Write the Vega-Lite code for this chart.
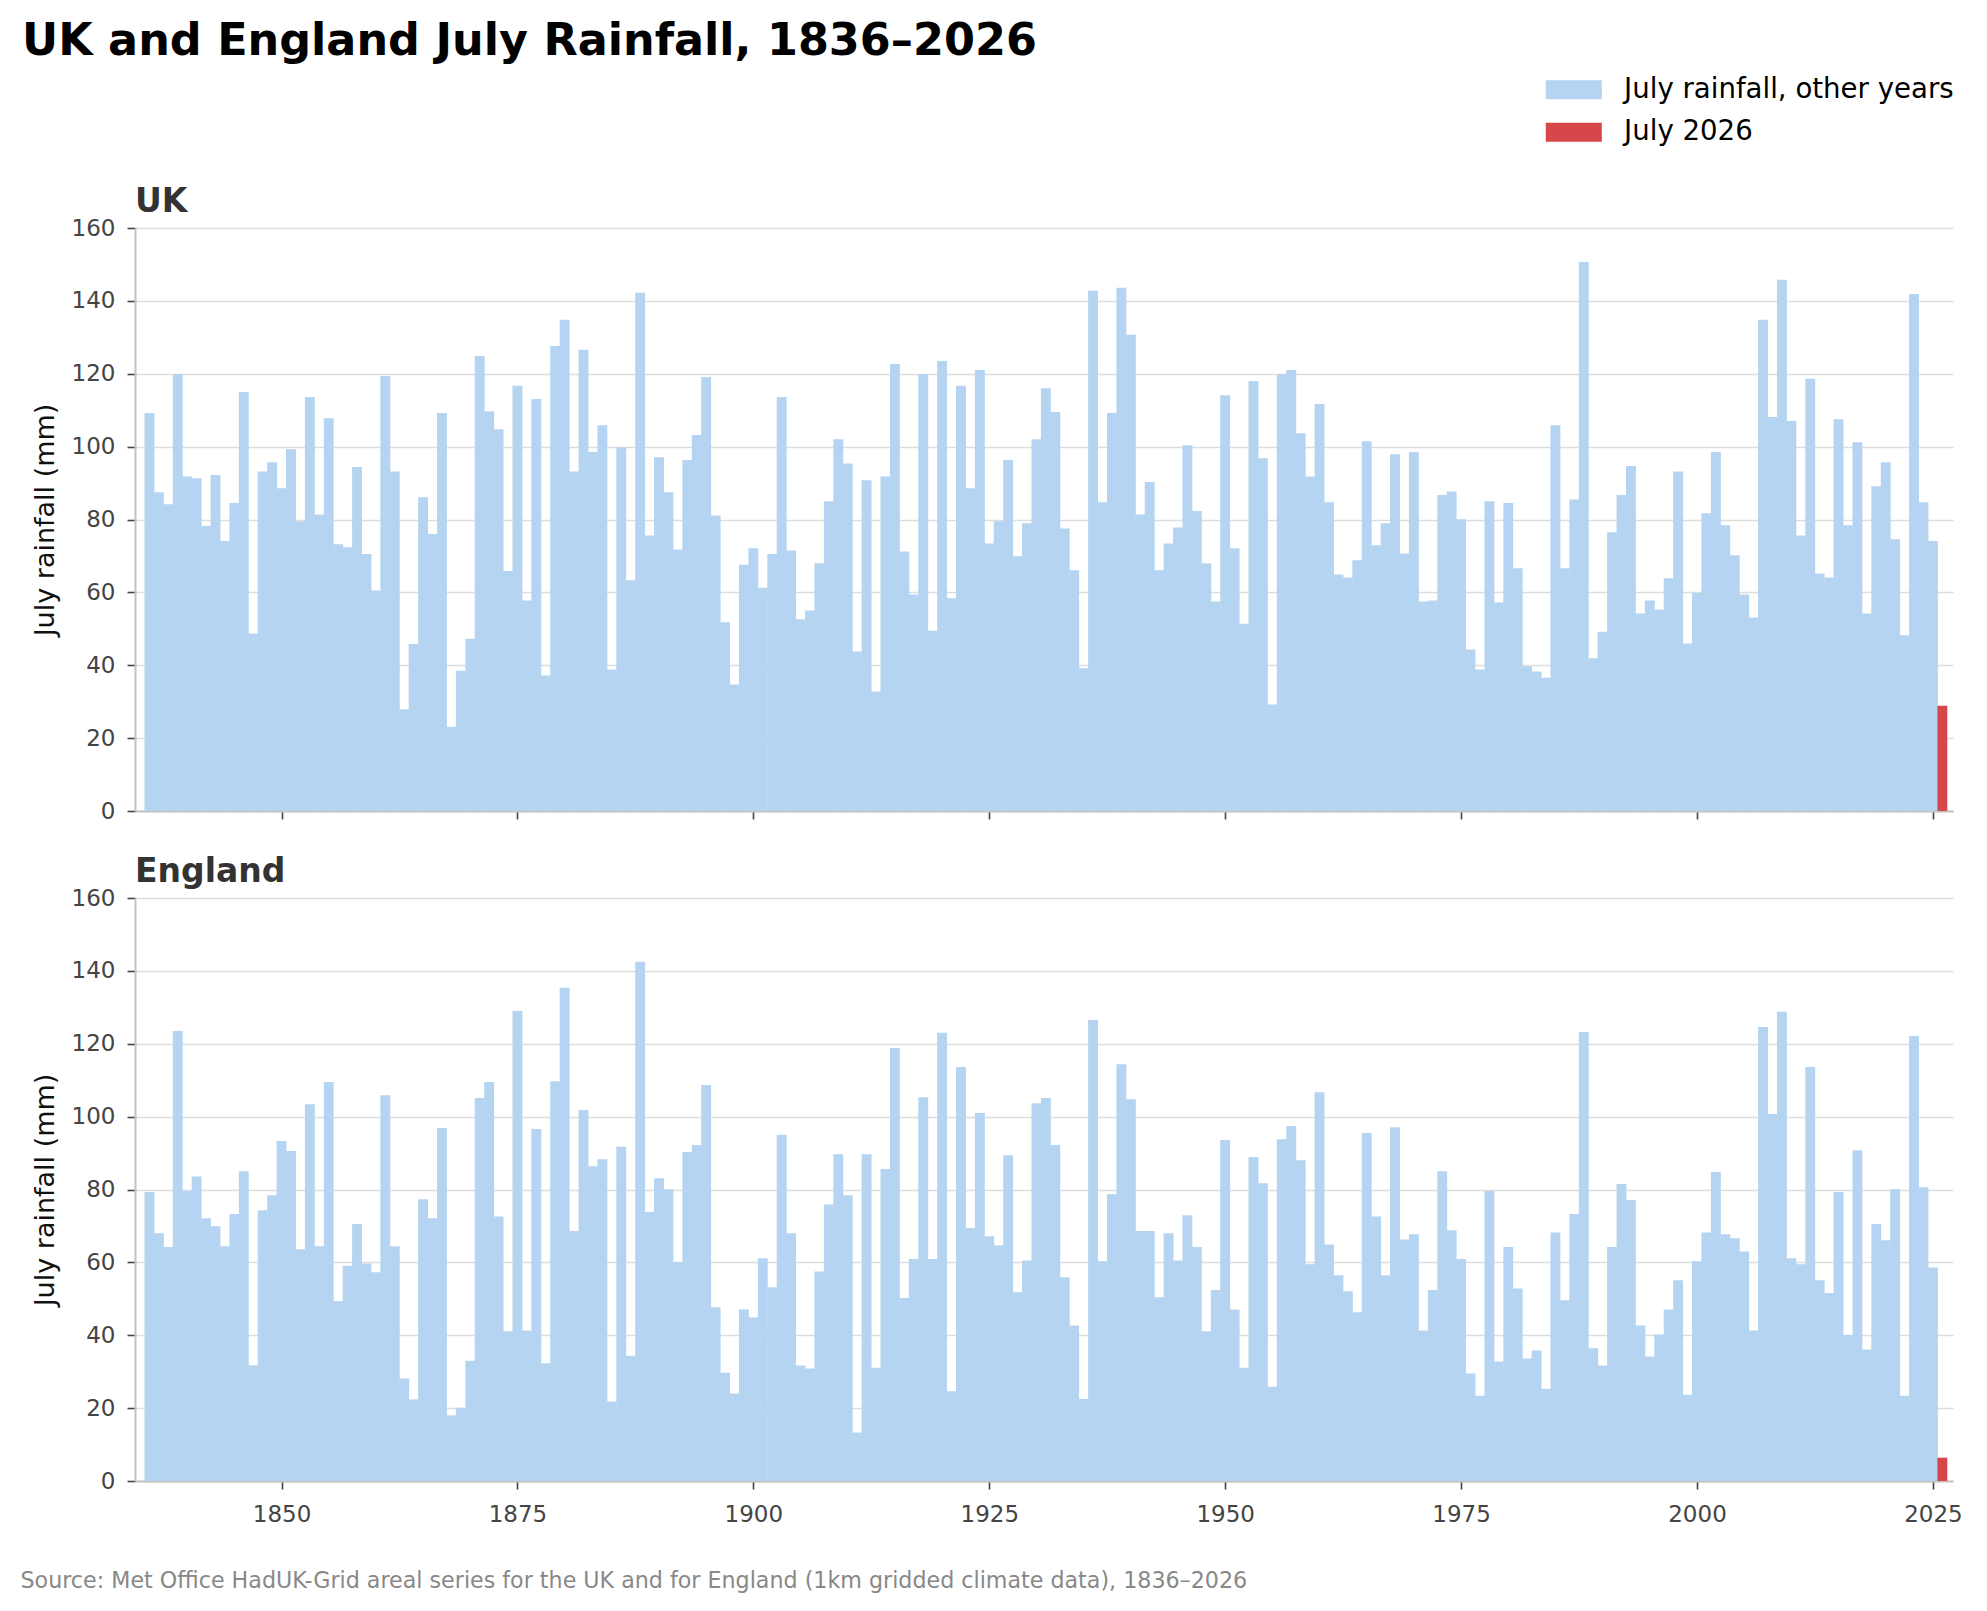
{
  "$schema": "https://vega.github.io/schema/vega-lite/v6.json",
  "padding": {"left": 20, "top": 19, "right": 10, "bottom": 10},
  "title": {
    "text": "UK and England July Rainfall, 1836–2026",
    "anchor": "start",
    "frame": "bounds",
    "dx": 2,
    "fontSize": 44.5,
    "fontWeight": "bold",
    "color": "#000000",
    "baseline": "top",
    "offset": 11.5
  },
  "data": {
    "values": [
      {"year": 1836, "uk": 109.2, "england": 79.3, "series": "July rainfall, other years"},
      {"year": 1837, "uk": 87.5, "england": 68.0, "series": "July rainfall, other years"},
      {"year": 1838, "uk": 84.2, "england": 64.2, "series": "July rainfall, other years"},
      {"year": 1839, "uk": 119.9, "england": 123.5, "series": "July rainfall, other years"},
      {"year": 1840, "uk": 91.8, "england": 79.6, "series": "July rainfall, other years"},
      {"year": 1841, "uk": 91.3, "england": 83.6, "series": "July rainfall, other years"},
      {"year": 1842, "uk": 78.2, "england": 72.1, "series": "July rainfall, other years"},
      {"year": 1843, "uk": 92.2, "england": 69.9, "series": "July rainfall, other years"},
      {"year": 1844, "uk": 74.1, "england": 64.4, "series": "July rainfall, other years"},
      {"year": 1845, "uk": 84.5, "england": 73.3, "series": "July rainfall, other years"},
      {"year": 1846, "uk": 115.0, "england": 85.0, "series": "July rainfall, other years"},
      {"year": 1847, "uk": 48.7, "england": 31.8, "series": "July rainfall, other years"},
      {"year": 1848, "uk": 93.2, "england": 74.3, "series": "July rainfall, other years"},
      {"year": 1849, "uk": 95.7, "england": 78.4, "series": "July rainfall, other years"},
      {"year": 1850, "uk": 88.6, "england": 93.3, "series": "July rainfall, other years"},
      {"year": 1851, "uk": 99.3, "england": 90.6, "series": "July rainfall, other years"},
      {"year": 1852, "uk": 79.5, "england": 63.6, "series": "July rainfall, other years"},
      {"year": 1853, "uk": 113.6, "england": 103.4, "series": "July rainfall, other years"},
      {"year": 1854, "uk": 81.4, "england": 64.4, "series": "July rainfall, other years"},
      {"year": 1855, "uk": 107.8, "england": 109.5, "series": "July rainfall, other years"},
      {"year": 1856, "uk": 73.2, "england": 49.4, "series": "July rainfall, other years"},
      {"year": 1857, "uk": 72.4, "england": 59.1, "series": "July rainfall, other years"},
      {"year": 1858, "uk": 94.4, "england": 70.5, "series": "July rainfall, other years"},
      {"year": 1859, "uk": 70.5, "england": 59.7, "series": "July rainfall, other years"},
      {"year": 1860, "uk": 60.5, "england": 57.3, "series": "July rainfall, other years"},
      {"year": 1861, "uk": 119.4, "england": 105.9, "series": "July rainfall, other years"},
      {"year": 1862, "uk": 93.2, "england": 64.4, "series": "July rainfall, other years"},
      {"year": 1863, "uk": 27.9, "england": 28.1, "series": "July rainfall, other years"},
      {"year": 1864, "uk": 45.8, "england": 22.4, "series": "July rainfall, other years"},
      {"year": 1865, "uk": 86.1, "england": 77.3, "series": "July rainfall, other years"},
      {"year": 1866, "uk": 76.0, "england": 72.1, "series": "July rainfall, other years"},
      {"year": 1867, "uk": 109.2, "england": 96.9, "series": "July rainfall, other years"},
      {"year": 1868, "uk": 23.1, "england": 18.0, "series": "July rainfall, other years"},
      {"year": 1869, "uk": 38.5, "england": 20.1, "series": "July rainfall, other years"},
      {"year": 1870, "uk": 47.3, "england": 33.0, "series": "July rainfall, other years"},
      {"year": 1871, "uk": 124.9, "england": 105.1, "series": "July rainfall, other years"},
      {"year": 1872, "uk": 109.7, "england": 109.5, "series": "July rainfall, other years"},
      {"year": 1873, "uk": 104.8, "england": 72.6, "series": "July rainfall, other years"},
      {"year": 1874, "uk": 65.9, "england": 41.1, "series": "July rainfall, other years"},
      {"year": 1875, "uk": 116.7, "england": 129.0, "series": "July rainfall, other years"},
      {"year": 1876, "uk": 57.8, "england": 41.3, "series": "July rainfall, other years"},
      {"year": 1877, "uk": 113.1, "england": 96.6, "series": "July rainfall, other years"},
      {"year": 1878, "uk": 37.2, "england": 32.3, "series": "July rainfall, other years"},
      {"year": 1879, "uk": 127.6, "england": 109.7, "series": "July rainfall, other years"},
      {"year": 1880, "uk": 134.8, "england": 135.4, "series": "July rainfall, other years"},
      {"year": 1881, "uk": 93.2, "england": 68.6, "series": "July rainfall, other years"},
      {"year": 1882, "uk": 126.6, "england": 101.8, "series": "July rainfall, other years"},
      {"year": 1883, "uk": 98.5, "england": 86.4, "series": "July rainfall, other years"},
      {"year": 1884, "uk": 105.9, "england": 88.3, "series": "July rainfall, other years"},
      {"year": 1885, "uk": 38.8, "england": 21.8, "series": "July rainfall, other years"},
      {"year": 1886, "uk": 99.8, "england": 91.7, "series": "July rainfall, other years"},
      {"year": 1887, "uk": 63.3, "england": 34.4, "series": "July rainfall, other years"},
      {"year": 1888, "uk": 142.2, "england": 142.5, "series": "July rainfall, other years"},
      {"year": 1889, "uk": 75.6, "england": 73.8, "series": "July rainfall, other years"},
      {"year": 1890, "uk": 97.1, "england": 83.1, "series": "July rainfall, other years"},
      {"year": 1891, "uk": 87.5, "england": 80.1, "series": "July rainfall, other years"},
      {"year": 1892, "uk": 71.8, "england": 60.1, "series": "July rainfall, other years"},
      {"year": 1893, "uk": 96.3, "england": 90.3, "series": "July rainfall, other years"},
      {"year": 1894, "uk": 103.2, "england": 92.2, "series": "July rainfall, other years"},
      {"year": 1895, "uk": 119.1, "england": 108.7, "series": "July rainfall, other years"},
      {"year": 1896, "uk": 81.1, "england": 47.7, "series": "July rainfall, other years"},
      {"year": 1897, "uk": 51.8, "england": 29.7, "series": "July rainfall, other years"},
      {"year": 1898, "uk": 34.7, "england": 24.0, "series": "July rainfall, other years"},
      {"year": 1899, "uk": 67.6, "england": 47.1, "series": "July rainfall, other years"},
      {"year": 1900, "uk": 72.1, "england": 44.9, "series": "July rainfall, other years"},
      {"year": 1901, "uk": 61.3, "england": 61.1, "series": "July rainfall, other years"},
      {"year": 1902, "uk": 70.5, "england": 53.2, "series": "July rainfall, other years"},
      {"year": 1903, "uk": 113.6, "england": 95.0, "series": "July rainfall, other years"},
      {"year": 1904, "uk": 71.5, "england": 68.0, "series": "July rainfall, other years"},
      {"year": 1905, "uk": 52.6, "england": 31.7, "series": "July rainfall, other years"},
      {"year": 1906, "uk": 55.0, "england": 30.9, "series": "July rainfall, other years"},
      {"year": 1907, "uk": 68.0, "england": 57.5, "series": "July rainfall, other years"},
      {"year": 1908, "uk": 85.0, "england": 75.9, "series": "July rainfall, other years"},
      {"year": 1909, "uk": 102.0, "england": 89.7, "series": "July rainfall, other years"},
      {"year": 1910, "uk": 95.4, "england": 78.4, "series": "July rainfall, other years"},
      {"year": 1911, "uk": 43.8, "england": 13.3, "series": "July rainfall, other years"},
      {"year": 1912, "uk": 90.8, "england": 89.7, "series": "July rainfall, other years"},
      {"year": 1913, "uk": 32.8, "england": 31.1, "series": "July rainfall, other years"},
      {"year": 1914, "uk": 91.8, "england": 85.6, "series": "July rainfall, other years"},
      {"year": 1915, "uk": 122.7, "england": 118.8, "series": "July rainfall, other years"},
      {"year": 1916, "uk": 71.2, "england": 50.2, "series": "July rainfall, other years"},
      {"year": 1917, "uk": 59.4, "england": 60.9, "series": "July rainfall, other years"},
      {"year": 1918, "uk": 119.9, "england": 105.3, "series": "July rainfall, other years"},
      {"year": 1919, "uk": 49.5, "england": 60.9, "series": "July rainfall, other years"},
      {"year": 1920, "uk": 123.5, "england": 123.0, "series": "July rainfall, other years"},
      {"year": 1921, "uk": 58.4, "england": 24.6, "series": "July rainfall, other years"},
      {"year": 1922, "uk": 116.7, "england": 113.6, "series": "July rainfall, other years"},
      {"year": 1923, "uk": 88.6, "england": 69.4, "series": "July rainfall, other years"},
      {"year": 1924, "uk": 121.0, "england": 101.0, "series": "July rainfall, other years"},
      {"year": 1925, "uk": 73.4, "england": 67.2, "series": "July rainfall, other years"},
      {"year": 1926, "uk": 79.5, "england": 64.7, "series": "July rainfall, other years"},
      {"year": 1927, "uk": 96.3, "england": 89.4, "series": "July rainfall, other years"},
      {"year": 1928, "uk": 69.9, "england": 51.8, "series": "July rainfall, other years"},
      {"year": 1929, "uk": 79.0, "england": 60.5, "series": "July rainfall, other years"},
      {"year": 1930, "uk": 102.0, "england": 103.7, "series": "July rainfall, other years"},
      {"year": 1931, "uk": 116.0, "england": 105.1, "series": "July rainfall, other years"},
      {"year": 1932, "uk": 109.5, "england": 92.2, "series": "July rainfall, other years"},
      {"year": 1933, "uk": 77.5, "england": 55.9, "series": "July rainfall, other years"},
      {"year": 1934, "uk": 66.1, "england": 42.7, "series": "July rainfall, other years"},
      {"year": 1935, "uk": 39.2, "england": 22.5, "series": "July rainfall, other years"},
      {"year": 1936, "uk": 142.8, "england": 126.5, "series": "July rainfall, other years"},
      {"year": 1937, "uk": 84.7, "england": 60.3, "series": "July rainfall, other years"},
      {"year": 1938, "uk": 109.2, "england": 78.7, "series": "July rainfall, other years"},
      {"year": 1939, "uk": 143.6, "england": 114.4, "series": "July rainfall, other years"},
      {"year": 1940, "uk": 130.7, "england": 104.8, "series": "July rainfall, other years"},
      {"year": 1941, "uk": 81.4, "england": 68.6, "series": "July rainfall, other years"},
      {"year": 1942, "uk": 90.3, "england": 68.6, "series": "July rainfall, other years"},
      {"year": 1943, "uk": 66.1, "england": 50.4, "series": "July rainfall, other years"},
      {"year": 1944, "uk": 73.4, "england": 68.0, "series": "July rainfall, other years"},
      {"year": 1945, "uk": 77.8, "england": 60.5, "series": "July rainfall, other years"},
      {"year": 1946, "uk": 100.4, "england": 72.9, "series": "July rainfall, other years"},
      {"year": 1947, "uk": 82.3, "england": 64.2, "series": "July rainfall, other years"},
      {"year": 1948, "uk": 68.0, "england": 41.1, "series": "July rainfall, other years"},
      {"year": 1949, "uk": 57.5, "england": 52.4, "series": "July rainfall, other years"},
      {"year": 1950, "uk": 114.1, "england": 93.6, "series": "July rainfall, other years"},
      {"year": 1951, "uk": 72.1, "england": 47.1, "series": "July rainfall, other years"},
      {"year": 1952, "uk": 51.4, "england": 31.1, "series": "July rainfall, other years"},
      {"year": 1953, "uk": 118.0, "england": 88.9, "series": "July rainfall, other years"},
      {"year": 1954, "uk": 96.8, "england": 81.7, "series": "July rainfall, other years"},
      {"year": 1955, "uk": 29.2, "england": 25.9, "series": "July rainfall, other years"},
      {"year": 1956, "uk": 119.9, "england": 93.8, "series": "July rainfall, other years"},
      {"year": 1957, "uk": 121.0, "england": 97.4, "series": "July rainfall, other years"},
      {"year": 1958, "uk": 103.7, "england": 88.0, "series": "July rainfall, other years"},
      {"year": 1959, "uk": 91.8, "england": 59.5, "series": "July rainfall, other years"},
      {"year": 1960, "uk": 111.7, "england": 106.7, "series": "July rainfall, other years"},
      {"year": 1961, "uk": 84.7, "england": 64.9, "series": "July rainfall, other years"},
      {"year": 1962, "uk": 64.9, "england": 56.5, "series": "July rainfall, other years"},
      {"year": 1963, "uk": 64.1, "england": 52.1, "series": "July rainfall, other years"},
      {"year": 1964, "uk": 68.8, "england": 46.3, "series": "July rainfall, other years"},
      {"year": 1965, "uk": 101.5, "england": 95.5, "series": "July rainfall, other years"},
      {"year": 1966, "uk": 72.9, "england": 72.6, "series": "July rainfall, other years"},
      {"year": 1967, "uk": 79.0, "england": 56.5, "series": "July rainfall, other years"},
      {"year": 1968, "uk": 97.9, "england": 97.1, "series": "July rainfall, other years"},
      {"year": 1969, "uk": 70.7, "england": 66.3, "series": "July rainfall, other years"},
      {"year": 1970, "uk": 98.5, "england": 67.7, "series": "July rainfall, other years"},
      {"year": 1971, "uk": 57.5, "england": 41.3, "series": "July rainfall, other years"},
      {"year": 1972, "uk": 57.8, "england": 52.4, "series": "July rainfall, other years"},
      {"year": 1973, "uk": 86.7, "england": 85.0, "series": "July rainfall, other years"},
      {"year": 1974, "uk": 87.7, "england": 68.8, "series": "July rainfall, other years"},
      {"year": 1975, "uk": 80.1, "england": 60.9, "series": "July rainfall, other years"},
      {"year": 1976, "uk": 44.3, "england": 29.5, "series": "July rainfall, other years"},
      {"year": 1977, "uk": 38.8, "england": 23.4, "series": "July rainfall, other years"},
      {"year": 1978, "uk": 85.0, "england": 79.6, "series": "July rainfall, other years"},
      {"year": 1979, "uk": 57.2, "england": 32.8, "series": "July rainfall, other years"},
      {"year": 1980, "uk": 84.5, "england": 64.2, "series": "July rainfall, other years"},
      {"year": 1981, "uk": 66.6, "england": 52.8, "series": "July rainfall, other years"},
      {"year": 1982, "uk": 39.7, "england": 33.6, "series": "July rainfall, other years"},
      {"year": 1983, "uk": 38.3, "england": 35.8, "series": "July rainfall, other years"},
      {"year": 1984, "uk": 36.6, "england": 25.3, "series": "July rainfall, other years"},
      {"year": 1985, "uk": 105.9, "england": 68.2, "series": "July rainfall, other years"},
      {"year": 1986, "uk": 66.6, "england": 49.6, "series": "July rainfall, other years"},
      {"year": 1987, "uk": 85.5, "england": 73.3, "series": "July rainfall, other years"},
      {"year": 1988, "uk": 150.7, "england": 123.2, "series": "July rainfall, other years"},
      {"year": 1989, "uk": 41.9, "england": 36.4, "series": "July rainfall, other years"},
      {"year": 1990, "uk": 49.2, "england": 31.7, "series": "July rainfall, other years"},
      {"year": 1991, "uk": 76.5, "england": 64.2, "series": "July rainfall, other years"},
      {"year": 1992, "uk": 86.7, "england": 81.5, "series": "July rainfall, other years"},
      {"year": 1993, "uk": 94.7, "england": 77.1, "series": "July rainfall, other years"},
      {"year": 1994, "uk": 54.2, "england": 42.7, "series": "July rainfall, other years"},
      {"year": 1995, "uk": 57.8, "england": 34.2, "series": "July rainfall, other years"},
      {"year": 1996, "uk": 55.3, "england": 40.2, "series": "July rainfall, other years"},
      {"year": 1997, "uk": 63.9, "england": 47.1, "series": "July rainfall, other years"},
      {"year": 1998, "uk": 93.2, "england": 55.1, "series": "July rainfall, other years"},
      {"year": 1999, "uk": 46.0, "england": 23.7, "series": "July rainfall, other years"},
      {"year": 2000, "uk": 59.8, "england": 60.3, "series": "July rainfall, other years"},
      {"year": 2001, "uk": 81.7, "england": 68.2, "series": "July rainfall, other years"},
      {"year": 2002, "uk": 98.5, "england": 84.8, "series": "July rainfall, other years"},
      {"year": 2003, "uk": 78.4, "england": 67.7, "series": "July rainfall, other years"},
      {"year": 2004, "uk": 70.2, "england": 66.6, "series": "July rainfall, other years"},
      {"year": 2005, "uk": 59.4, "england": 63.0, "series": "July rainfall, other years"},
      {"year": 2006, "uk": 53.1, "england": 41.3, "series": "July rainfall, other years"},
      {"year": 2007, "uk": 134.8, "england": 124.6, "series": "July rainfall, other years"},
      {"year": 2008, "uk": 108.1, "england": 100.7, "series": "July rainfall, other years"},
      {"year": 2009, "uk": 145.8, "england": 128.8, "series": "July rainfall, other years"},
      {"year": 2010, "uk": 107.0, "england": 61.1, "series": "July rainfall, other years"},
      {"year": 2011, "uk": 75.6, "england": 59.5, "series": "July rainfall, other years"},
      {"year": 2012, "uk": 118.6, "england": 113.6, "series": "July rainfall, other years"},
      {"year": 2013, "uk": 65.2, "england": 55.1, "series": "July rainfall, other years"},
      {"year": 2014, "uk": 64.1, "england": 51.6, "series": "July rainfall, other years"},
      {"year": 2015, "uk": 107.5, "england": 79.3, "series": "July rainfall, other years"},
      {"year": 2016, "uk": 78.4, "england": 40.1, "series": "July rainfall, other years"},
      {"year": 2017, "uk": 101.2, "england": 90.8, "series": "July rainfall, other years"},
      {"year": 2018, "uk": 54.2, "england": 36.1, "series": "July rainfall, other years"},
      {"year": 2019, "uk": 89.1, "england": 70.5, "series": "July rainfall, other years"},
      {"year": 2020, "uk": 95.7, "england": 66.1, "series": "July rainfall, other years"},
      {"year": 2021, "uk": 74.6, "england": 80.1, "series": "July rainfall, other years"},
      {"year": 2022, "uk": 48.2, "england": 23.4, "series": "July rainfall, other years"},
      {"year": 2023, "uk": 141.9, "england": 122.1, "series": "July rainfall, other years"},
      {"year": 2024, "uk": 84.7, "england": 80.6, "series": "July rainfall, other years"},
      {"year": 2025, "uk": 74.1, "england": 58.6, "series": "July rainfall, other years"},
      {"year": 2026, "uk": 28.9, "england": 6.4, "series": "July 2026"}
    ]
  },
  "spacing": 33,
  "vconcat": [
    {
      "title": {"text": "UK"},
      "width": 1818,
      "height": 583,
      "mark": {"type": "bar", "width": 9.9},
      "encoding": {
        "x": {
          "field": "year",
          "type": "quantitative",
          "scale": {"domain": [1835, 2026.6], "nice": false, "zero": false},
          "axis": {"values": [1850, 1875, 1900, 1925, 1950, 1975, 2000, 2025], "labels": false, "title": null, "grid": false}
        },
        "y": {
          "field": "uk",
          "type": "quantitative",
          "scale": {"domain": [0, 160], "nice": false},
          "axis": {"values": [0, 20, 40, 60, 80, 100, 120, 140, 160], "title": "July rainfall (mm)"}
        },
        "color": {
          "field": "series",
          "type": "nominal",
          "scale": {
            "domain": ["July rainfall, other years", "July 2026"],
            "range": ["#b5d4f1", "#d6474a"]
          },
          "legend": {
            "orient": "none",
            "legendX": 1425,
            "legendY": -152,
            "title": null,
            "padding": 0,
            "symbolType": "M-2.95,-1H2.95V1H-2.95Z",
            "symbolSize": 361,
            "symbolStrokeWidth": 0,
            "labelFontSize": 27.6,
            "labelColor": "#000000",
            "labelOffset": 36.5,
            "labelLimit": 600,
            "rowPadding": 13.4
          }
        }
      }
    },
    {
      "title": {"text": "England"},
      "width": 1818,
      "height": 583,
      "mark": {"type": "bar", "width": 9.9},
      "encoding": {
        "x": {
          "field": "year",
          "type": "quantitative",
          "scale": {"domain": [1835, 2026.6], "nice": false, "zero": false},
          "axis": {
            "values": [1850, 1875, 1900, 1925, 1950, 1975, 2000, 2025],
            "format": "d",
            "grid": false,
            "title": "Source: Met Office HadUK-Grid areal series for the UK and for England (1km gridded climate data), 1836–2026",
            "titleFontSize": 22.2,
            "titleFontWeight": "normal",
            "titleColor": "#888888",
            "titleAnchor": "start",
            "titleAlign": "left",
            "titleBaseline": "middle",
            "titleX": -115,
            "titleY": 99
          }
        },
        "y": {
          "field": "england",
          "type": "quantitative",
          "scale": {"domain": [0, 160], "nice": false},
          "axis": {"values": [0, 20, 40, 60, 80, 100, 120, 140, 160], "title": "July rainfall (mm)"}
        },
        "color": {
          "field": "series",
          "type": "nominal",
          "scale": {
            "domain": ["July rainfall, other years", "July 2026"],
            "range": ["#b5d4f1", "#d6474a"]
          }
        }
      }
    }
  ],
  "config": {
    "font": "DejaVu Sans",
    "view": {"stroke": null},
    "title": {
      "anchor": "start",
      "frame": "group",
      "fontSize": 33,
      "fontWeight": "bold",
      "color": "#333333",
      "baseline": "alphabetic",
      "offset": -2
    },
    "axis": {
      "domainColor": "#c6c2ba",
      "domainWidth": 2,
      "tickColor": "#444444",
      "tickWidth": 1.6,
      "tickSize": 8,
      "labelFontSize": 23,
      "labelColor": "#444444",
      "gridColor": "#dddddd",
      "gridWidth": 1.3,
      "titleFontSize": 27,
      "titleFontWeight": "normal",
      "titleColor": "#111111"
    },
    "axisY": {"labelPadding": 12, "titlePadding": 12},
    "axisX": {"labelPadding": 14, "labelFlush": false}
  }
}
